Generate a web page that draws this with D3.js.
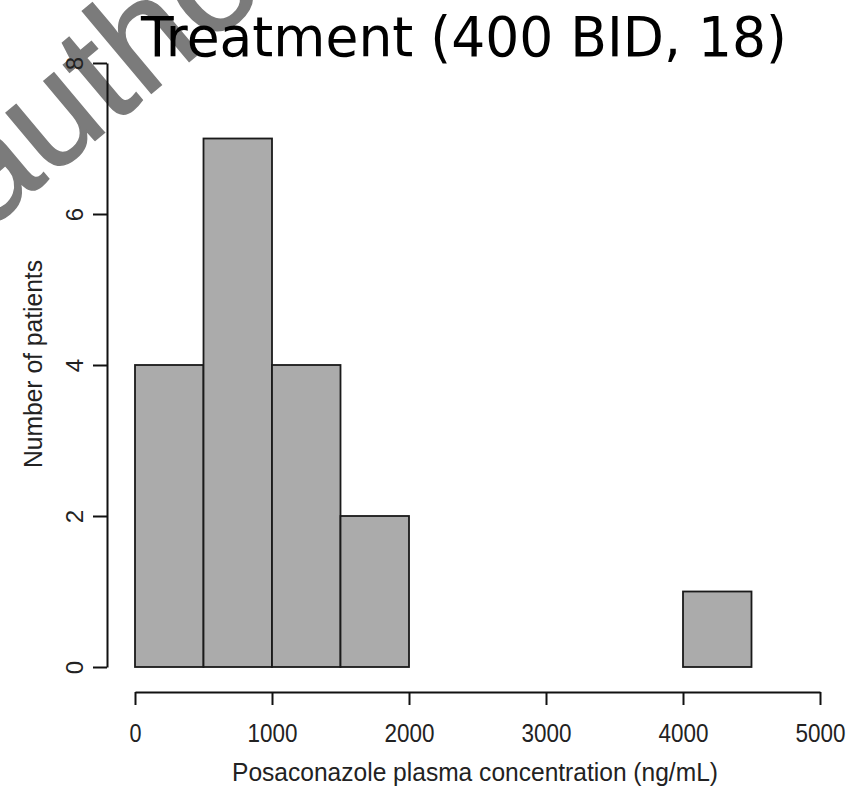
<!DOCTYPE html>
<html>
<head>
<meta charset="utf-8">
<script src="https://cdn.jsdelivr.net/npm/d3@7"></script>
<style>
  html, body { margin: 0; padding: 0; background: #fff; }
  svg { display: block; }
</style>
</head>
<body>
<div id="chart"></div>
<script>
// histogram bins and counts
const binEdges = [0, 500, 1000, 1500, 2000, 2500, 3000, 3500, 4000, 4500, 5000];
const counts = [4, 7, 4, 2, 0, 0, 0, 0, 1, 0];
const xTicks = [0, 1000, 2000, 3000, 4000, 5000];
const yTicks = [0, 2, 4, 6, 8];

const titleText = "Treatment (400 BID, 18)";
const xLabel = "Posaconazole plasma concentration (ng/mL)";
const yLabel = "Number of patients";

const width = 858, height = 787;

const svg = d3.select("#chart").append("svg")
  .attr("width", width)
  .attr("height", height);

const x = d3.scaleLinear().domain([0, 5000]).range([135, 820]);
const y = d3.scaleLinear().domain([0, 8]).range([667, 63]);

const bins = counts.map((c, i) => ({ x0: binEdges[i], x1: binEdges[i + 1], n: c }));

// watermark (drawn first, under everything)
svg.append("text")
  .attr("transform", "translate(-14,232) rotate(-40)")
  .style("font-family", "'Liberation Sans', Arial, sans-serif")
  .style("font-size", "148px")
  .style("fill", "#7b7b7b")
  .style("stroke", "#7b7b7b")
  .style("stroke-width", 1.5)
  .text("author");

// bars
svg.append("g")
  .selectAll("rect")
  .data(bins)
  .join("rect")
  .attr("x", d => x(d.x0))
  .attr("y", d => y(d.n))
  .attr("width", d => x(d.x1) - x(d.x0))
  .attr("height", d => y(0) - y(d.n))
  .attr("fill", "#ababab")
  .attr("stroke", "#1a1a1a")
  .attr("stroke-width", 1.8);

const font = "'Liberation Sans', Arial, Helvetica, sans-serif";

// x axis (R style: offset below the bars)
const xAxis = svg.append("g")
  .attr("transform", `translate(0,${692})`)
  .call(d3.axisBottom(x).tickValues(xTicks).tickSize(13).tickSizeOuter(0).tickPadding(6)
    .tickFormat(d3.format("d")));
xAxis.select(".domain").attr("stroke", "#111").attr("stroke-width", 2);
xAxis.selectAll(".tick line").attr("stroke", "#111").attr("stroke-width", 2);
xAxis.selectAll(".tick text").remove();
xAxis.selectAll(".tick").append("text")
  .attr("y", 50)
  .attr("text-anchor", "middle")
  .attr("fill", "#222")
  .style("font-family", font)
  .style("font-size", "25px")
  .attr("lengthAdjust", "spacingAndGlyphs")
  .attr("textLength", d => d === 0 ? 12 : 50)
  .text(d => d);

// y axis
const yAxis = svg.append("g")
  .attr("transform", `translate(${107},0)`)
  .call(d3.axisLeft(y).tickValues(yTicks).tickSize(14).tickSizeOuter(0));
yAxis.select(".domain").attr("stroke", "#111").attr("stroke-width", 2);
yAxis.selectAll(".tick line").attr("stroke", "#111").attr("stroke-width", 2);
yAxis.selectAll(".tick text").remove();
yAxis.selectAll(".tick").append("text")
  .attr("transform", "translate(-24,0) rotate(-90)")
  .attr("text-anchor", "middle")
  .attr("fill", "#222")
  .style("font-family", font)
  .style("font-size", "24px")
  .text(d => d);

// axis titles
svg.append("text")
  .attr("x", 475)
  .attr("y", 781)
  .attr("text-anchor", "middle")
  .attr("fill", "#222")
  .style("font-family", font)
  .style("font-size", "26px")
  .attr("lengthAdjust", "spacingAndGlyphs")
  .attr("textLength", 486)
  .text(xLabel);

svg.append("text")
  .attr("transform", "translate(42,364) rotate(-90)")
  .attr("text-anchor", "middle")
  .attr("fill", "#222")
  .style("font-family", font)
  .style("font-size", "26px")
  .attr("lengthAdjust", "spacingAndGlyphs")
  .attr("textLength", 208)
  .text(yLabel);

// title
svg.append("text")
  .attr("x", 141)
  .attr("y", 56)
  .attr("fill", "#000")
  .style("font-family", "'Comic Sans MS', 'DejaVu Sans', sans-serif")
  .style("font-size", "55px")
  .attr("lengthAdjust", "spacingAndGlyphs")
  .attr("textLength", 646)
  .text(titleText);
</script>
</body>
</html>
